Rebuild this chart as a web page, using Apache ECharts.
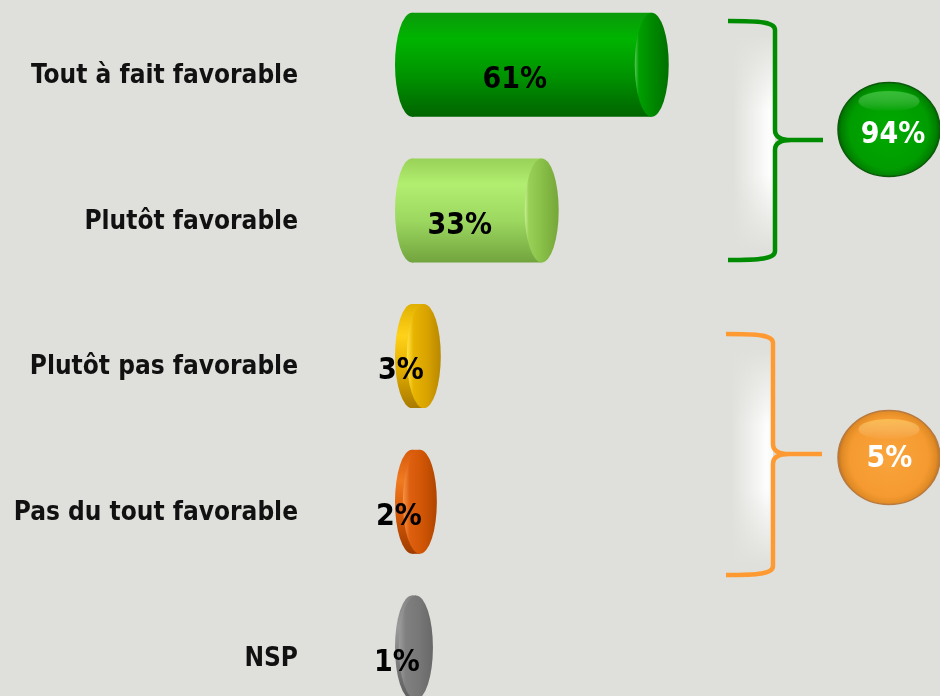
<!DOCTYPE html>
<html><head><meta charset="utf-8">
<script src="https://cdn.jsdelivr.net/npm/echarts@6/dist/echarts.min.js"></script>
<style>html,body{margin:0;padding:0;background:#dfe0db}#c{width:940px;height:696px}</style>
</head><body><div id="c"></div>
<script>
// ---- data ----
const categories = ['Tout à fait favorable', 'Plutôt favorable', 'Plutôt pas favorable', 'Pas du tout favorable', 'NSP'];
const values = [61, 33, 3, 2, 1];
const groupTotals = [94, 5];          // favorable / pas favorable
const groupColors = ['#008c00', '#ff9a33'];

// ---- styles ----
const FONT = "'DejaVu Sans Condensed', 'DejaVu Sans', sans-serif";
const BG = '#dfe0db';
const bodyStops = [
  [[0,'#0a9a0a'],[0.25,'#00b400'],[0.6,'#009400'],[1,'#006400']],
  [[0,'#98d258'],[0.25,'#b2ee70'],[0.6,'#9cd860'],[1,'#72a43e']],
  [[0,'#e0b000'],[0.3,'#ffd21a'],[0.6,'#e6b000'],[1,'#a87a00']],
  [[0,'#d85a0c'],[0.3,'#f07a20'],[0.6,'#d85a08'],[1,'#a03c00']],
  [[0,'#858585'],[0.3,'#9a9a9a'],[0.6,'#808080'],[1,'#5c5c5c']]
];
const capStops = [
  [[0,'#55c855'],[0.12,'#00a000'],[0.5,'#008a00'],[1,'#007000']],
  [[0,'#c8f090'],[0.12,'#98d058'],[0.5,'#88c048'],[1,'#76a63a']],
  [[0,'#ffe444'],[0.2,'#e8b400'],[0.6,'#d8a200'],[1,'#b88800']],
  [[0,'#f59448'],[0.2,'#de6010'],[0.6,'#cf5505'],[1,'#b04400']],
  [[0,'#9c9c9c'],[0.2,'#808080'],[0.6,'#777777'],[1,'#686868']]
];
const toStops = s => s.map(([o,c]) => ({offset:o, color:c}));
const ellipsePath = (cx, cy, rx, ry) =>
  `M ${cx-rx} ${cy} A ${rx} ${ry} 0 1 0 ${cx+rx} ${cy} A ${rx} ${ry} 0 1 0 ${cx-rx} ${cy} Z`;

function renderCylinder(params, api) {
  const v = api.value(0), idx = api.value(1);
  const p0 = api.coord([0, idx]);
  const p1 = api.coord([v, idx]);
  const band = api.size([0, 1])[1];
  const ry = band * 0.357, rx = 17;
  const x0 = p0[0], x1 = p1[0], yc = p0[1];
  const bodyFill = new echarts.graphic.LinearGradient(0,0,0,1,toStops(bodyStops[idx]));
  const capFill = new echarts.graphic.LinearGradient(0,0,1,0,toStops(capStops[idx]));
  return {
    type: 'group',
    children: [
      {type:'path', shape:{pathData: ellipsePath(x0, yc, rx, ry)}, style:{fill:bodyFill}},
      {type:'rect', shape:{x:x0, y:yc-ry, width:Math.max(x1-x0,0.01), height:ry*2}, style:{fill:bodyFill}},
      {type:'path', shape:{pathData: ellipsePath(x1, yc, rx, ry)}, style:{fill:capFill}},
      {type:'text', x: x0 + (x1-x0)/2 - 17, y: yc + 15.5,
        style:{text: v + '%', fill:'#000', fontSize:30, fontWeight:'bold', fontFamily:FONT,
               align:'center', verticalAlign:'middle'}}
    ]
  };
}

function bracePath(xL, xV, xTip, yTop, yTip, yBot) {
  return `M ${xL} ${yTop} C ${xL+32} ${yTop} ${xV} ${yTop+1} ${xV} ${yTop+9} ` +
    `L ${xV} ${yTip-10} C ${xV} ${yTip-3} ${xV+6} ${yTip} ${xV+16} ${yTip} L ${xTip} ${yTip} ` +
    `M ${xV+16} ${yTip} C ${xV+6} ${yTip} ${xV} ${yTip+3} ${xV} ${yTip+10} ` +
    `L ${xV} ${yBot-9} C ${xV} ${yBot-1} ${xL+32} ${yBot} ${xL} ${yBot}`;
}

function glow(x, yTop, yBot) {
  const h = yBot - yTop;
  return [
    {type:'rect', shape:{x:x, y:yTop, width:42, height:h},
     style:{fill:new echarts.graphic.LinearGradient(0,0,1,0,[
       {offset:0,color:'rgba(255,255,255,0)'},{offset:0.5,color:'rgba(255,255,255,0.55)'},
       {offset:0.85,color:'rgba(255,255,255,0.95)'},{offset:1,color:'rgba(255,255,255,0.75)'}])}},
    {type:'rect', shape:{x:x, y:yTop, width:42, height:h*0.35},
     style:{fill:new echarts.graphic.LinearGradient(0,0,0,1,[
       {offset:0,color:BG},{offset:1,color:'rgba(223,224,219,0)'}])}},
    {type:'rect', shape:{x:x, y:yBot-h*0.35, width:42, height:h*0.35},
     style:{fill:new echarts.graphic.LinearGradient(0,0,0,1,[
       {offset:0,color:'rgba(223,224,219,0)'},{offset:1,color:BG}])}}
  ];
}

function badge(cx, cy, rx, ry, stops, rim, hi, text, tx, ty) {
  return [
    {type:'path', shape:{pathData: ellipsePath(cx, cy, rx, ry)},
     style:{fill:new echarts.graphic.RadialGradient(0.5,0.5,0.55,toStops(stops)), stroke:rim, lineWidth:1.5}},
    {type:'path', shape:{pathData: ellipsePath(cx, cy - ry*0.6, rx*0.6, ry*0.22)},
     style:{fill:new echarts.graphic.LinearGradient(0,0,0,1,[
       {offset:0,color:hi},{offset:1,color:'rgba(255,255,255,0)'}])}},
    {type:'text', x:tx, y:ty,
     style:{text, fill:'#fff', fontSize:30, fontWeight:'bold', fontFamily:FONT, align:'center', verticalAlign:'middle'}}
  ];
}

function renderDecor(params, api) {
  if (params.dataIndex !== 0) return null;
  const children = [].concat(
    glow(733, 35, 250),
    glow(731, 350, 565),
    [
      {type:'path', shape:{pathData:bracePath(728, 775, 823, 21, 140, 260)},
       style:{fill:null, stroke:groupColors[0], lineWidth:4.5, lineCap:'butt', lineJoin:'round'}},
      {type:'path', shape:{pathData:bracePath(726, 773, 822, 334, 454, 575)},
       style:{fill:null, stroke:groupColors[1], lineWidth:4.5, lineCap:'butt', lineJoin:'round'}}
    ],
    badge(889, 129.5, 51, 47,
      [[0,'#00aa00'],[0.75,'#009c00'],[0.9,'#008000'],[1,'#005a00']], '#0a5a0a',
      'rgba(120,230,120,0.45)', groupTotals[0] + '%', 893, 135.5),
    badge(889, 457.5, 51, 47,
      [[0,'#f9a43c'],[0.75,'#f59a30'],[0.9,'#e08a25'],[1,'#b06a20']], '#b87a40',
      'rgba(255,230,120,0.45)', groupTotals[1] + '%', 889.5, 459)
  );
  return {type:'group', children};
}

const chart = echarts.init(document.getElementById('c'));
chart.setOption({
  backgroundColor: BG,
  animation: false,
  grid: {left: 412, width: 393, top: -8.15, height: 728.5, outerBoundsMode: 'none', containLabel: false},
  xAxis: {type:'value', min:0, max:100, show:false},
  yAxis: {
    type:'category', data: categories, inverse:true,
    axisLine:{show:false}, axisTick:{show:false}, splitLine:{show:false},
    axisLabel:{margin:114, color:'#111', fontSize:26, fontWeight:'bold', fontFamily:FONT,
               verticalAlign:'top', lineHeight:23}
  },
  series: [{
    type:'custom',
    renderItem: renderCylinder,
    encode:{x:0, y:1},
    data: values.map((v, i) => [v, i]),
    clip:false
  }, {
    type:'custom',
    renderItem: renderDecor,
    encode:{x:0, y:1},
    data: [[0, 0]],
    silent:true,
    clip:false
  }]
});
</script></body></html>
